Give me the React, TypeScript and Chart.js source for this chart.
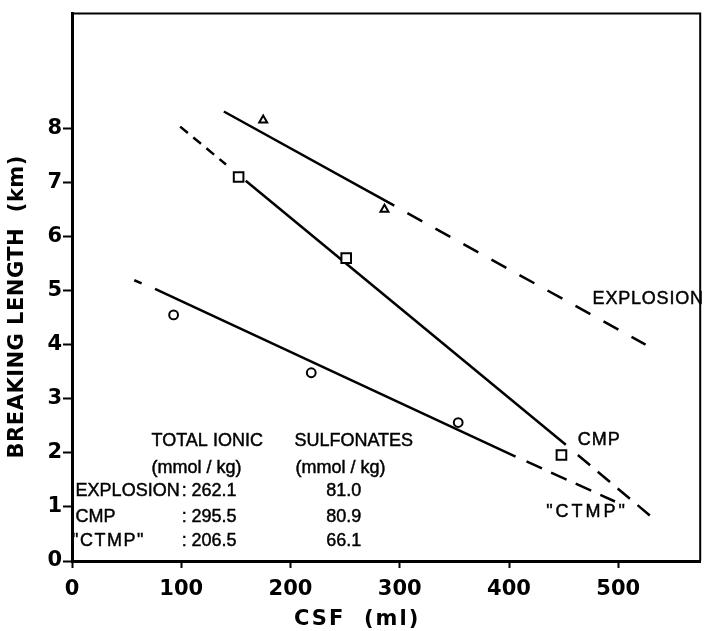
import { useEffect, useRef } from "react";
import { Chart, registerables } from "chart.js";

Chart.register(...registerables);

// Axis ticks
const xTickValues = [0, 100, 200, 300, 400, 500];
const yTickValues = [0, 1, 2, 3, 4, 5, 6, 7, 8];

// Measured breaking length (km) against CSF (ml)
const explosionCsf = [175, 286];
const explosionBL = [8.15, 6.5];
const cmpCsf = [152.5, 251, 448];
const cmpBL = [7.1, 5.6, 1.96];
const ctmpCsf = [93, 219, 353.5];
const ctmpBL = [4.55, 3.48, 2.56];

// Trend lines: solid over the measured range, dashed where extrapolated
const explosionSolidCsf = [139, 295];
const explosionSolidBL = [8.31, 6.57];
const explosionDashCsf = [307, 525];
const explosionDashBL = [6.43, 4.0];

const cmpHeadCsf = [99, 141];
const cmpHeadBL = [8.03, 7.33];
const cmpSolidCsf = [159, 452];
const cmpSolidBL = [7.03, 2.15];
const cmpTailCsf = [463, 529];
const cmpTailBL = [1.96, 0.84];

const ctmpHeadCsf = [57, 64];
const ctmpHeadBL = [5.19, 5.13];
const ctmpSolidCsf = [76, 406];
const ctmpSolidBL = [5.03, 1.93];
const ctmpTailCsf = [416, 497];
const ctmpTailBL = [1.84, 1.1];

// Inset table of charge contents
const pulpNames = ["EXPLOSION", "CMP", "\"CTMP\""];
const totalIonic = [262.1, 295.5, 206.5];
const sulfonates = [81.0, 80.9, 66.1];
const columnHeads = ["TOTAL IONIC", "SULFONATES"];
const columnUnits = ["(mmol / kg)", "(mmol / kg)"];

// Curve labels
const curveLabels = ["EXPLOSION", "CMP", "\"CTMP\""];
const curveLabelCsf = [476.5, 463, 434];
const curveLabelBL = [4.85, 2.23, 0.9];

const pts = (xs: number[], ys: number[]) => xs.map((x, i) => ({ x, y: ys[i] }));

const BOLD = "'DejaVu Sans', sans-serif";
const PLAIN = "'Liberation Sans', Arial, sans-serif";

const lineSet = (xs: number[], ys: number[], dash: number[]) => ({
  data: pts(xs, ys),
  showLine: true,
  borderColor: "#000",
  borderWidth: 2.5,
  borderDash: dash,
  pointRadius: 0,
  order: 2,
});

const markerSet = (xs: number[], ys: number[], style: string, radius: number) => ({
  data: pts(xs, ys),
  showLine: false,
  pointStyle: style,
  pointRadius: radius,
  pointBorderWidth: 2,
  pointBorderColor: "#000",
  pointBackgroundColor: "#fff",
  borderColor: "#000",
  backgroundColor: "#fff",
  order: 0,
});

// draws text with a thin outline so the light face reads a little heavier
const heavyText = (ctx: CanvasRenderingContext2D, t: string, x: number, y: number) => {
  ctx.fillText(t, x, y);
  ctx.strokeText(t, x, y);
};

const annotations = {
  id: "annotations",
  afterDraw(chart: any) {
    const { ctx, chartArea } = chart;
    const xs = chart.scales.x;
    const ys = chart.scales.y;
    const px = (v: number) => xs.getPixelForValue(v);
    const py = (v: number) => ys.getPixelForValue(v);
    ctx.save();

    // top and right frame
    ctx.strokeStyle = "#000";
    ctx.lineWidth = 2;
    ctx.beginPath();
    ctx.moveTo(chartArea.left, chartArea.top);
    ctx.lineTo(chartArea.right, chartArea.top);
    ctx.lineTo(chartArea.right, chartArea.bottom);
    ctx.stroke();

    ctx.fillStyle = "#000";
    ctx.lineWidth = 0.45;
    ctx.textBaseline = "middle";
    ctx.textAlign = "left";

    // curve labels
    ctx.font = `18px ${PLAIN}`;
    curveLabels.forEach((t, i) => {
      ctx.letterSpacing = i === 2 ? "3px" : i === 1 ? "1px" : "0.8px";
      heavyText(ctx, t, px(curveLabelCsf[i]), py(curveLabelBL[i]));
    });

    // inset table
    const rowBL = [2.22, 1.72, 1.3, 0.82, 0.37];
    const headCsf = [72.8, 203.6];
    ctx.letterSpacing = "0px";
    columnHeads.forEach((t, i) => heavyText(ctx, t, px(headCsf[i]), py(rowBL[0])));
    columnUnits.forEach((t, i) => heavyText(ctx, t, px(headCsf[i] + (i ? 1 : 0)), py(rowBL[1])));
    pulpNames.forEach((t, i) => {
      const y = py(rowBL[2 + i]);
      ctx.letterSpacing = i === 2 ? "1.5px" : "0px";
      heavyText(ctx, t, px(i === 2 ? 0 : 3.3), y);
      ctx.letterSpacing = "0px";
      heavyText(ctx, ":", px(100.5), y);
      heavyText(ctx, totalIonic[i].toFixed(1), px(109.3), y);
      heavyText(ctx, sulfonates[i].toFixed(1), px(232.8), y);
    });

    // axis titles
    ctx.font = `bold 21px ${BOLD}`;
    ctx.textAlign = "center";
    ctx.letterSpacing = "2px";
    ctx.fillText("CSF  (ml)", px(261), chart.height - 11);

    ctx.save();
    ctx.translate(18, py(4.7));
    ctx.rotate(-Math.PI / 2);
    ctx.letterSpacing = "0.5px";
    ctx.fillText("BREAKING LENGTH  (km)", 0, 0);
    ctx.restore();

    ctx.restore();
  },
};

export default function App() {
  const ref = useRef<HTMLCanvasElement>(null);

  useEffect(() => {
    const canvas = ref.current;
    if (!canvas) return;
    const chart = new Chart(canvas, {
      type: "scatter",
      data: {
        datasets: [
          markerSet(explosionCsf, explosionBL, "triangle", 4.6),
          markerSet(cmpCsf, cmpBL, "rect", 6.8),
          markerSet(ctmpCsf, ctmpBL, "circle", 4.4),
          lineSet(explosionSolidCsf, explosionSolidBL, []),
          lineSet(explosionDashCsf, explosionDashBL, [17, 15]),
          lineSet(cmpHeadCsf, cmpHeadBL, [10, 7]),
          lineSet(cmpSolidCsf, cmpSolidBL, []),
          lineSet(cmpTailCsf, cmpTailBL, [16, 10]),
          lineSet(ctmpHeadCsf, ctmpHeadBL, [8, 8]),
          lineSet(ctmpSolidCsf, ctmpSolidBL, []),
          lineSet(ctmpTailCsf, ctmpTailBL, [17, 10]),
        ] as any,
      },
      options: {
        responsive: false,
        animation: false,
        devicePixelRatio: 1,
        layout: { padding: { top: 11, right: 1, left: 0, bottom: 0 } },
        plugins: {
          legend: { display: false },
          tooltip: { enabled: false },
        },
        scales: {
          x: {
            type: "linear",
            min: 0,
            max: 575,
            afterBuildTicks: (s: any) => {
              s.ticks = xTickValues.map((v) => ({ value: v }));
            },
            afterFit: (s: any) => {
              s.height = 70;
            },
            border: { display: true, width: 3, color: "#000" },
            grid: {
              drawOnChartArea: false,
              drawTicks: true,
              tickLength: 7,
              tickWidth: 2,
              color: "#000",
            },
            ticks: {
              color: "#000",
              padding: 9,
              maxRotation: 0,
              autoSkip: false,
              font: { family: BOLD, weight: "bold", size: 21 },
            },
          },
          y: {
            type: "linear",
            min: 0,
            max: 10.12,
            afterBuildTicks: (s: any) => {
              s.ticks = yTickValues.map((v) => ({ value: v }));
            },
            afterFit: (s: any) => {
              s.width = 72;
            },
            border: { display: true, width: 3, color: "#000" },
            grid: {
              drawOnChartArea: false,
              drawTicks: true,
              tickLength: 9,
              tickWidth: 2,
              color: "#000",
            },
            ticks: {
              color: "#000",
              padding: 1,
              autoSkip: false,
              font: { family: BOLD, weight: "bold", size: 21 },
            },
          },
        },
      } as any,
      plugins: [annotations],
    });
    return () => chart.destroy();
  }, []);

  return (
    <div style={{ position: "absolute", left: 0, top: 0, width: 709, height: 631, background: "#fff" }}>
      <canvas ref={ref} width={709} height={631} style={{ display: "block" }} />
    </div>
  );
}
